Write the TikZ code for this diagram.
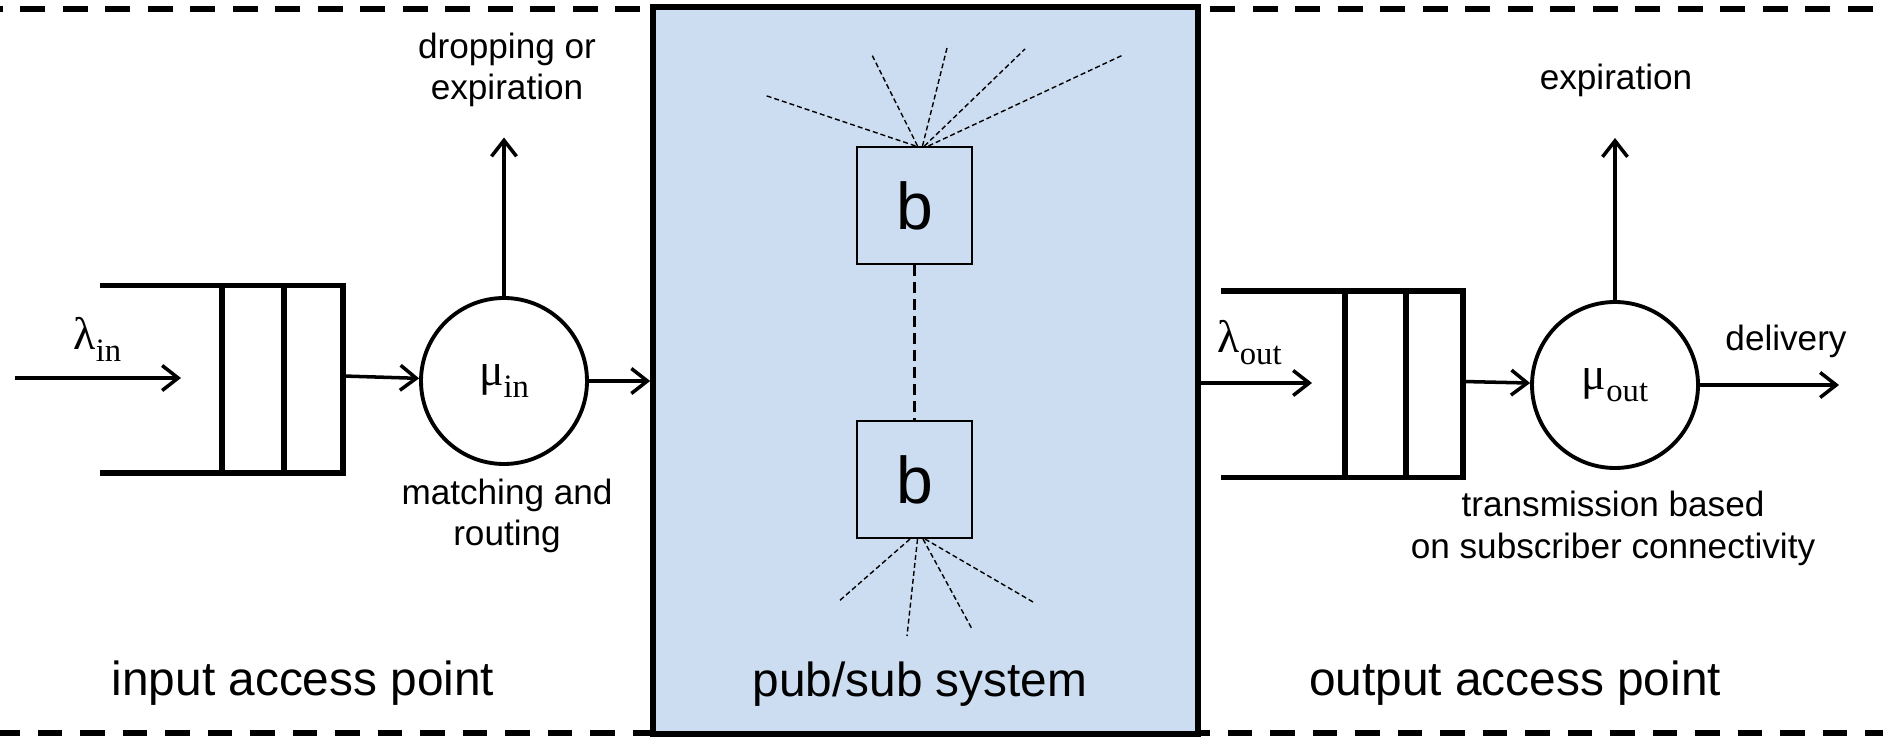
\documentclass[tikz,border=0pt]{standalone}
\usepackage{fontspec}
\setmainfont{Liberation Sans}
\newfontfamily\greekfont{Liberation Serif}
\usetikzlibrary{arrows.meta}
\definecolor{pubsubblue}{RGB}{204,221,241}
\newcommand{\rate}[2]{{\fontsize{13}{15}\greekfont #1}\raisebox{-3.4pt}{\fontsize{9.3}{11}\greekfont #2}}

\begin{document}
\begin{tikzpicture}[
border/.style={line width=1.7pt,dash pattern=on 0.247cm off 0.178cm},
system/.style={fill=pubsubblue,draw,line width=1.6pt,minimum width=5.45cm,minimum height=7.27cm,inner sep=0pt},
queue/.style={draw,line width=1.45pt},
server/.style={draw,circle,line width=1.1pt,minimum size=1.66cm,inner sep=0pt},
broker/.style={draw,line width=0.6pt,minimum width=1.15cm,minimum height=1.17cm,font=\fontsize{18.8}{20}\selectfont},
link/.style={line width=0.75pt,dash pattern=on 0.11cm off 0.06cm},
spoke/.style={line width=0.4pt,dash pattern=on 0.05cm off 0.03cm},
flow/.style={line width=1pt,-{Straight Barb[length=1.6mm,width=2.5mm]}},
note/.style={align=center,font=\fontsize{10}{11.8}\selectfont},
title/.style={font=\fontsize{13.6}{16}\selectfont},
]
\useasboundingbox (0,0) rectangle (18.83,7.36);

% access point borders
\draw[border,dash phase=0.22cm] (0,7.27) -- (18.83,7.27);
\draw[border,dash phase=0.047cm] (0,0.03) -- (18.83,0.03);

% pub/sub system
\node[system] (sys) at (9.255,3.655) {};
\node[broker] (b1) at (9.145,5.305) {b};
\node[broker] (b2) at (9.145,2.565) {b};
\draw[link] (b1) -- (b2);
\foreach \dx/\x/\y in {0.01/7.64/6.41,0.03/8.72/6.81,0.08/9.47/6.88,0.10/10.25/6.87,0.14/11.23/6.81}
  \draw[spoke] ([xshift=\dx cm]b1.north) -- (\x,\y);
\foreach \dx/\x/\y in {-0.045/8.38/1.34,0.03/9.07/1.00,0.085/9.72/1.07,0.105/10.33/1.34}
  \draw[spoke] ([xshift=\dx cm]b2.south) -- (\x,\y);
\node[title] (systitle) at (9.2,0.52) {pub/sub system};

% input access point
\path[queue]
    (1.00,4.505) -- (3.43,4.505) -- (3.43,2.63) -- (1.00,2.63)
    (2.22,4.505) -- (2.22,2.63)
    (2.84,4.505) -- (2.84,2.63);
\coordinate (src) at (0.15,3.58);
\coordinate (inend) at (1.81,3.58);
\coordinate (qin) at (3.43,3.60);
\node[server] (muin) at (5.04,3.55) {\rate{μ}{in}};
\coordinate (drop) at (5.04,5.985);
\node[inner sep=0pt,anchor=base west] (lamin) at (0.73,3.86) {\rate{λ}{in}};
\draw[flow] (src) -- (inend);
\draw[flow] (qin) -- (muin);
\draw[flow] (muin) -- (muin -| sys.west);
\draw[flow] (muin) -- (drop);
\node[note] (droptext) at (5.07,6.66) {dropping or\\expiration};
\node[note] (matchtext) at (5.07,2.2) {matching and\\routing};
\node[title] (intitle) at (3.03,0.53) {input access point};

% output access point
\path[queue]
    (12.21,4.45) -- (14.63,4.45) -- (14.63,2.584) -- (12.21,2.584)
    (13.45,4.45) -- (13.45,2.584)
    (14.06,4.45) -- (14.06,2.584);
\coordinate (outend) at (13.12,3.53);
\coordinate (qout) at (14.63,3.545);
\node[server] (muout) at (16.15,3.51) {\rate{μ}{out}};
\coordinate (expire) at (16.15,5.98);
\coordinate (deliver) at (18.39,3.51);
\node[inner sep=0pt,anchor=base west] (lamout) at (12.17,3.83) {\rate{λ}{out}};
\draw[flow] (outend -| sys.east) -- (outend);
\draw[flow] (qout) -- (muout);
\draw[flow] (muout) -- (expire);
\draw[flow] (muout) -- (deliver);
\node[note] (expiretext) at (16.16,6.56) {expiration};
\node[note] (delivertext) at (17.86,3.95) {delivery};
\node[note] (transtext) at (16.13,2.075) {transmission based\\on subscriber connectivity};
\node[title] (outtitle) at (15.15,0.53) {output access point};
\end{tikzpicture}
\end{document}
